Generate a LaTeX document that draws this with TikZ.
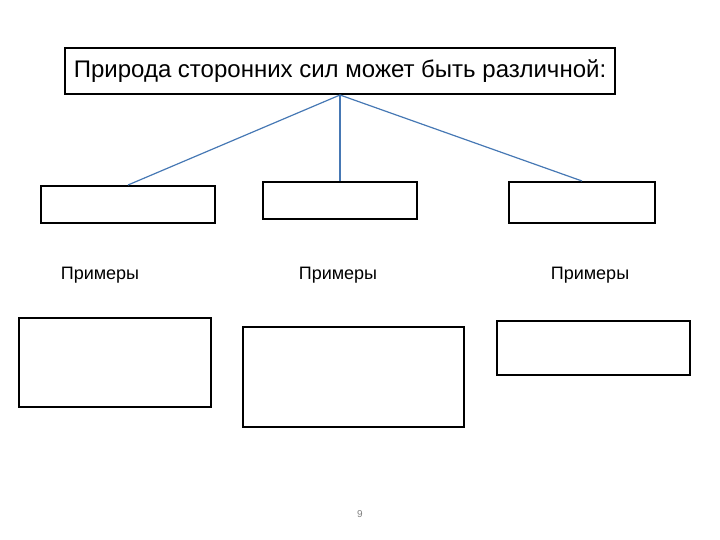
\documentclass[tikz,border=0pt]{standalone}
\usepackage{fontspec}
\setmainfont{Liberation Sans}
\definecolor{linkblue}{RGB}{70,120,180}
\begin{document}
\begin{tikzpicture}[x=1pt,y=-1pt,
  box/.style={draw=black,line width=2pt,inner sep=0pt,fill=white},
  link/.style={draw=linkblue,line width=1.2pt},
  lbl/.style={font=\fontsize{18}{20}\selectfont,inner sep=0pt}]
\useasboundingbox (0,0) rectangle (720,540);
\node[box,minimum width=550pt,minimum height=46pt,font=\fontsize{24}{26}\selectfont] (top) at (340,71) {Природа сторонних сил может быть различной:};
\node[box,minimum width=174pt,minimum height=37pt] (b1) at (128,204.5) {};
\node[box,minimum width=154pt,minimum height=37pt] (b2) at (340,200.5) {};
\node[box,minimum width=146pt,minimum height=41pt] (b3) at (582,202.5) {};
\node[lbl] (p1) at (100,275) {Примеры};
\node[lbl] (p2) at (338,275) {Примеры};
\node[lbl] (p3) at (590,275) {Примеры};
\node[box,minimum width=192pt,minimum height=89pt] (b4) at (115,362.5) {};
\node[box,minimum width=221pt,minimum height=100pt] (b5) at (353.5,377) {};
\node[box,minimum width=193pt,minimum height=54pt] (b6) at (593.5,348) {};
\node[font=\fontsize{10}{11}\selectfont,text=gray] (pg) at (360,514) {9};
\draw[link] (top.south) -- (b1.north);
\draw[link] (top.south) -- (b2.north);
\draw[link] (top.south) -- (b3.north);
\end{tikzpicture}
\end{document}
